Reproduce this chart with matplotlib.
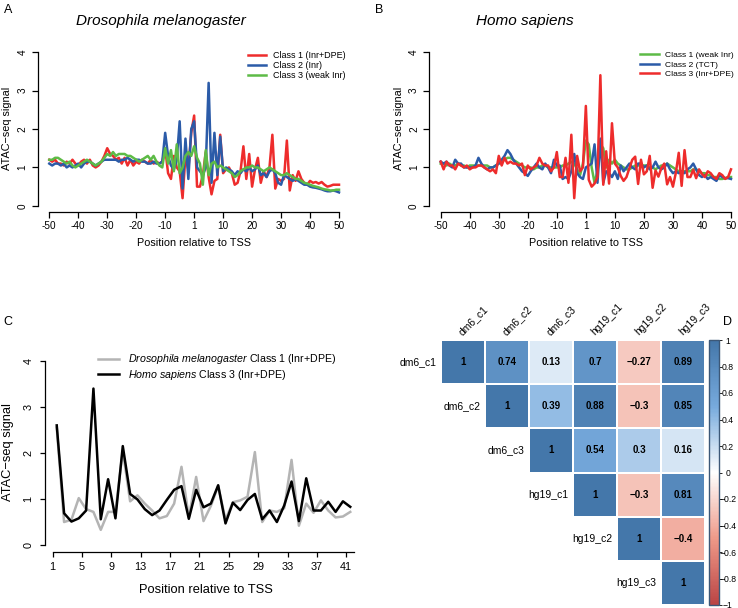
import numpy as np
import matplotlib
matplotlib.use("Agg")
import matplotlib.pyplot as plt
from matplotlib.colors import LinearSegmentedColormap, Normalize
from matplotlib.cm import ScalarMappable

plt.rcParams['font.family'] = ['Liberation Sans', 'DejaVu Sans']
plt.rcParams['mathtext.fontset'] = 'custom'
plt.rcParams['mathtext.it'] = 'Liberation Sans:italic'
plt.rcParams['mathtext.rm'] = 'Liberation Sans'

# ---- data ----
positions = np.arange(-50, 51)
tss_ticks = np.arange(-50, 51, 10)
tss_labels = ['-50', '-40', '-30', '-20', '-10', '1', '10', '20', '30', '40', '50']

dm_class1 = [1.2, 1.15, 1.2, 1.1, 1.1, 1.05, 1.15, 1.1, 1.2, 1.1,
             1.05, 1.15, 1.2, 1.1, 1.2, 1.05, 1.0, 1.05, 1.15, 1.3,
             1.5, 1.35, 1.3, 1.2, 1.25, 1.1, 1.25, 1.05, 1.2, 1.05,
             1.15, 1.1, 1.2, 1.15, 1.1, 1.2, 1.1, 1.15, 1.1, 1.15,
             1.5, 0.85, 0.7, 1.3, 1.0, 0.9, 0.2, 1.3, 0.95, 1.9,
             2.35, 0.5, 0.5, 0.8, 1.4, 0.75, 0.3, 0.65, 0.7, 1.85,
             0.85, 0.95, 1.0, 0.85, 0.55, 0.6, 0.9, 1.55, 0.7, 1.35,
             0.5, 0.95, 1.25, 0.6, 0.9, 0.75, 1.0, 1.85, 0.45, 0.7,
             0.65, 0.7, 1.7, 0.4, 0.8, 0.65, 0.9, 0.7, 0.6, 0.55,
             0.65, 0.6, 0.62, 0.58, 0.62, 0.55, 0.5, 0.52, 0.55, 0.55,
             0.55]
dm_class2 = [1.1, 1.05, 1.1, 1.1, 1.05, 1.1, 1.0, 1.05, 1.0, 1.05,
             1.1, 1.0, 1.1, 1.15, 1.15, 1.1, 1.05, 1.1, 1.15, 1.2,
             1.2, 1.2, 1.2, 1.2, 1.15, 1.2, 1.2, 1.25, 1.2, 1.15,
             1.2, 1.2, 1.15, 1.15, 1.1, 1.1, 1.15, 1.1, 1.1, 1.15,
             1.9, 1.3, 1.05, 0.95, 1.2, 2.2, 0.45, 1.75, 0.7, 2.0,
             2.2, 1.0, 0.9, 0.8, 1.0, 3.2, 0.6, 1.9, 0.8, 1.8,
             0.9, 1.0, 0.95, 0.9, 0.8, 0.9, 0.85, 0.95, 0.9, 1.0,
             0.9, 0.95, 1.05, 0.8, 0.85, 0.75, 0.9, 0.95, 0.85, 0.6,
             0.55, 0.8, 0.75, 0.7, 0.65, 0.7, 0.65, 0.6, 0.55, 0.55,
             0.5, 0.48, 0.47, 0.45, 0.43, 0.4, 0.38, 0.38, 0.4, 0.38,
             0.35]
dm_class3 = [1.2, 1.2, 1.25, 1.25, 1.2, 1.15, 1.1, 1.15, 1.05, 1.0,
             1.05, 1.1, 1.15, 1.2, 1.15, 1.1, 1.05, 1.1, 1.15, 1.25,
             1.35, 1.3, 1.4, 1.3, 1.35, 1.35, 1.35, 1.3, 1.3, 1.25,
             1.2, 1.15, 1.2, 1.25, 1.3, 1.2, 1.3, 1.15, 1.05, 1.0,
             1.5, 1.1, 1.45, 0.9, 1.6, 0.85, 1.0, 1.3, 1.4, 1.3,
             1.55, 1.25, 1.1, 0.55, 1.45, 0.8, 1.1, 1.15, 1.0, 1.05,
             1.0, 0.95, 0.9, 0.85, 0.75, 0.8, 0.9, 0.95, 1.0, 1.0,
             1.05, 1.0, 1.0, 0.95, 0.9, 0.95, 1.0, 0.95, 0.9, 0.85,
             0.8, 0.8, 0.85, 0.8, 0.75, 0.7, 0.7, 0.65, 0.6, 0.58,
             0.55, 0.52, 0.5, 0.48, 0.45, 0.43, 0.42, 0.4, 0.4, 0.42,
             0.42]

hs_class1 = [1.1, 1.1, 1.05, 1.1, 1.05, 1.05, 1.1, 1.05, 1.05, 1.0,
             1.05, 1.05, 1.05, 1.05, 1.05, 1.05, 1.05, 1.0, 1.0, 1.05,
             1.1, 1.15, 1.2, 1.25, 1.25, 1.2, 1.15, 1.1, 1.05, 1.0,
             1.0, 1.0, 0.95, 1.0, 1.0, 1.05, 1.05, 1.0, 1.0, 1.0,
             1.0, 1.0, 1.05, 1.05, 1.1, 1.15, 1.1, 0.95, 0.8, 1.1,
             1.7, 1.6, 1.0, 0.6, 0.9, 1.6, 1.5, 1.0, 1.2, 1.1,
             1.2, 1.1, 1.05, 1.0, 0.95, 0.95, 1.0, 1.05, 1.05, 1.05,
             1.05, 1.05, 1.0, 1.0, 0.95, 1.0, 1.05, 1.05, 1.1, 1.05,
             1.0, 0.95, 0.9, 0.9, 0.9, 0.9, 0.9, 0.95, 0.95, 0.9,
             0.85, 0.85, 0.8, 0.8, 0.75, 0.75, 0.7, 0.7, 0.72, 0.75,
             0.75]
hs_class2 = [1.15, 1.1, 1.15, 1.05, 1.0, 1.2, 1.1, 1.1, 1.0, 1.0,
             1.0, 1.0, 1.05, 1.25, 1.1, 1.0, 0.95, 1.0, 1.0, 1.05,
             1.1, 1.2, 1.3, 1.45, 1.35, 1.2, 1.1, 1.0, 0.9, 0.85,
             0.78, 0.9, 1.0, 1.1, 1.0, 0.95, 1.1, 1.0, 0.85, 1.2,
             1.05, 1.05, 0.7, 0.75, 0.7, 0.9, 1.35, 0.85, 0.75, 0.7,
             1.0, 1.05, 1.1, 1.6, 0.6, 1.75, 0.6, 0.9, 0.85, 0.75,
             0.9, 0.7, 1.05, 0.9, 1.0, 1.1, 1.0, 0.95, 1.1, 1.1,
             1.0, 1.05, 0.95, 1.0, 1.15, 1.0, 0.95, 1.0, 1.1, 0.95,
             0.85, 0.9, 0.85, 0.9, 0.85, 0.95, 1.0, 1.1, 0.95, 0.8,
             0.75, 0.8, 0.7, 0.75, 0.7, 0.65, 0.8, 0.75, 0.72, 0.72,
             0.7]
hs_class3 = [1.15, 0.95, 1.15, 1.05, 1.05, 0.95, 1.1, 1.05, 1.0, 1.05,
             0.95, 1.0, 1.0, 1.05, 1.05, 1.0, 0.95, 0.9, 0.95, 0.85,
             1.3, 1.05, 1.25, 1.1, 1.15, 1.1, 1.1, 1.05, 1.1, 0.8,
             1.05, 0.95, 1.0, 1.05, 1.25, 1.1, 1.05, 1.05, 0.9, 1.0,
             1.4, 0.75, 0.75, 1.25, 0.6, 1.85, 0.2, 1.3, 0.9, 1.0,
             2.6, 0.68, 0.5, 0.58, 0.75, 3.4, 0.55, 1.42, 0.58, 2.15,
             1.1, 1.0, 0.78, 0.65, 0.75, 0.98, 1.2, 1.28, 0.57, 1.2,
             0.82, 0.9, 1.3, 0.47, 0.92, 0.76, 0.98, 1.1, 0.56, 0.75,
             0.5, 0.86, 1.38, 0.52, 1.45, 0.75, 0.75, 0.94, 0.72, 0.95,
             0.83, 0.75, 0.9, 0.85, 0.75, 0.7, 0.85, 0.8, 0.7, 0.75,
             0.95]

# panel C: positions 1..41 downstream of TSS
c_pos = np.arange(41) + 1.55
c_ticks = np.arange(1, 42, 4)
c_dm = [2.55, 0.5, 0.55, 1.02, 0.78, 0.72, 0.33, 0.72, 0.72, 2.05,
        0.95, 1.08, 0.9, 0.75, 0.58, 0.63, 0.9, 1.7, 0.6, 1.48,
        0.52, 0.85, 1.28, 0.55, 0.93, 0.97, 1.05, 2.02, 0.5, 0.75,
        0.72, 0.8, 1.85, 0.42, 0.9, 0.7, 0.97, 0.75, 0.6, 0.62, 0.72]
c_hs = [2.6, 0.69, 0.51, 0.58, 0.75, 3.4, 0.56, 1.43, 0.58, 2.15,
        1.11, 0.99, 0.78, 0.65, 0.75, 0.98, 1.2, 1.28, 0.57, 1.2,
        0.82, 0.9, 1.3, 0.47, 0.92, 0.76, 0.98, 1.11, 0.56, 0.75,
        0.5, 0.86, 1.38, 0.52, 1.45, 0.75, 0.75, 0.94, 0.72, 0.95, 0.83]

# panel D: correlation matrix (upper triangle)
corr_names = ['dm6_c1', 'dm6_c2', 'dm6_c3', 'hg19_c1', 'hg19_c2', 'hg19_c3']
corr_upper = [[1, 0.74, 0.13, 0.7, -0.27, 0.89],
              [1, 0.39, 0.88, -0.3, 0.85],
              [1, 0.54, 0.3, 0.16],
              [1, -0.3, 0.81],
              [1, -0.4],
              [1]]
cbar_ticks = [-1, -0.8, -0.6, -0.4, -0.2, 0, 0.2, 0.4, 0.6, 0.8, 1]

RED, BLUE, GREEN = '#EE2C2C', '#2B5BA8', '#5DBB46'

W, H = 738, 608
fig = plt.figure(figsize=(W / 100, H / 100), dpi=100)


def box(l, t, r, b):
    return [l / W, 1 - b / H, (r - l) / W, (b - t) / H]


def r_style(ax, xb, yb, tick_fs, pad_x, pad_y, tlen):
    # base-R look: detached axes that only span the tick range
    for s in ['top', 'right']:
        ax.spines[s].set_visible(False)
    ax.spines['left'].set_bounds(*yb)
    ax.spines['bottom'].set_bounds(*xb)
    for s in ['left', 'bottom']:
        ax.spines[s].set_linewidth(0.9)
    ax.tick_params(direction='out', length=tlen, width=0.9, labelsize=tick_fs)
    ax.tick_params(axis='x', pad=pad_x)
    ax.tick_params(axis='y', pad=pad_y, labelrotation=90)
    ax.set_yticks([0, 1, 2, 3, 4])
    for lab in ax.get_yticklabels():
        lab.set_va('center')


def ftext(x, y, s, **kw):
    fig.text(x / W, 1 - y / H, s, **kw)


# ---- panel A ----
axA = fig.add_axes(box(37.7, 46, 350.6, 212))
for vals, col, lab in [(dm_class1, RED, 'Class 1 (Inr+DPE)'),
                       (dm_class2, BLUE, 'Class 2 (Inr)'),
                       (dm_class3, GREEN, 'Class 3 (weak Inr)')]:
    axA.plot(positions, vals, color=col, lw=1.8, label=lab)
axA.set_xlim(-54, 54)
axA.set_ylim(-0.16, 4.16)
axA.set_xticks(tss_ticks)
axA.set_xticklabels(tss_labels)
r_style(axA, (-50, 50), (0, 4), 7.2, 2.5, 3, 4.3)
axA.legend(loc='upper left', bbox_to_anchor=(248 / W, 1 - 51 / H),
           bbox_transform=fig.transFigure, frameon=False, fontsize=6.5,
           handlelength=2.0, handletextpad=0.8, labelspacing=0.12,
           borderpad=0, borderaxespad=0)

# ---- panel B ----
axB = fig.add_axes(box(429.1, 46, 742.6, 212))
for vals, col, lab in [(hs_class1, GREEN, 'Class 1 (weak Inr)'),
                       (hs_class2, BLUE, 'Class 2 (TCT)'),
                       (hs_class3, RED, 'Class 3 (Inr+DPE)')]:
    axB.plot(positions, vals, color=col, lw=1.8, label=lab)
axB.set_xlim(-54, 54)
axB.set_ylim(-0.16, 4.16)
axB.set_xticks(tss_ticks)
axB.set_xticklabels(tss_labels)
r_style(axB, (-50, 50), (0, 4), 7.2, 2.5, 3, 4.3)
axB.legend(loc='upper left', bbox_to_anchor=(640 / W, 1 - 51 / H),
           bbox_transform=fig.transFigure, frameon=False, fontsize=6.1,
           handlelength=2.3, handletextpad=0.7, labelspacing=0.2,
           borderpad=0, borderaxespad=0)

# ---- panel C ----
axC = fig.add_axes(box(45, 353.6, 362, 552.4))
axC.plot(c_pos, c_dm, color='#B4B4B4', lw=1.8,
         label=r'$\mathit{Drosophila\ melanogaster}$ Class 1 (Inr+DPE)')
axC.plot(c_pos, c_hs, color='black', lw=1.8,
         label=r'$\mathit{Homo\ sapiens}$ Class 3 (Inr+DPE)')
axC.set_xlim(-0.05, 43.15)
axC.set_ylim(-0.16, 4.16)
axC.set_xticks(c_ticks)
r_style(axC, (1, 42), (0, 4), 7.8, 3.4, 4.8, 3.6)
axC.legend(loc='upper left', bbox_to_anchor=(98 / W, 1 - 352.5 / H),
           bbox_transform=fig.transFigure, frameon=False, fontsize=7.7,
           handlelength=2.0, handletextpad=0.8, labelspacing=0.15,
           borderpad=0, borderaxespad=0)

# titles and axis labels
ftext(161, 21, 'Drosophila melanogaster', fontsize=11, style='italic', ha='center', va='center')
ftext(524.7, 21, 'Homo sapiens', fontsize=11, style='italic', ha='center', va='center')
ftext(194, 243, 'Position relative to TSS', fontsize=7.8, ha='center', va='center')
ftext(585.7, 243, 'Position relative to TSS', fontsize=7.8, ha='center', va='center')
ftext(205.7, 590, 'Position relative to TSS', fontsize=9.3, ha='center', va='center')
ftext(7.5, 128, 'ATAC\u2212seq signal', fontsize=7.8, rotation=90, ha='center', va='center')
ftext(398.5, 128, 'ATAC\u2212seq signal', fontsize=7.8, rotation=90, ha='center', va='center')
ftext(8.5, 452, 'ATAC\u2212seq signal', fontsize=9.3, rotation=90, ha='center', va='center')

# panel letters
ftext(8, 10, 'A', fontsize=9, ha='center', va='center')
ftext(379, 10, 'B', fontsize=9, ha='center', va='center')
ftext(8, 322, 'C', fontsize=9, ha='center', va='center')
ftext(728, 322, 'D', fontsize=9, ha='center', va='center')

# ---- panel D ----
n = len(corr_names)
mat = np.full((n, n), np.nan)
for i, row in enumerate(corr_upper):
    mat[i, i:] = row
cmap = LinearSegmentedColormap.from_list(
    'corr', ['#BB4444', '#EE9988', '#FFFFFF', '#77AADD', '#4477AA'], N=200)
norm = Normalize(-1, 1)

axD = fig.add_axes(box(441, 340, 705, 605))
axD.pcolormesh(np.arange(n + 1), np.arange(n + 1), np.ma.masked_invalid(mat),
               cmap=cmap, norm=norm, edgecolors='white', linewidth=1.2)
axD.set_xlim(0, n)
axD.set_ylim(n, 0)
axD.axis('off')
for i in range(n):
    for j in range(i, n):
        v = mat[i, j]
        txt = ('%g' % v).replace('-', '\u2212')
        axD.text(j + 0.5, i + 0.5, txt, ha='center', va='center',
                 fontsize=7, fontweight='bold', color='black')
    axD.text(i - 0.1, i + 0.5, corr_names[i], ha='right', va='center', fontsize=7.5)
    axD.text(i + 0.52, -0.06, corr_names[i], ha='left', va='bottom', fontsize=7.5,
             rotation=45, rotation_mode='anchor')

cax = fig.add_axes(box(709.3, 340, 719.3, 605))
cb = fig.colorbar(ScalarMappable(norm=norm, cmap=cmap), cax=cax, ticks=cbar_ticks)
cb.ax.set_yticklabels([('%g' % t).replace('-', '\u2212') for t in cbar_ticks])
cb.ax.tick_params(labelsize=6.2, length=2.5, width=0.6, pad=3.6)
for lab in cb.ax.get_yticklabels():
    lab.set_ha('center')
cb.outline.set_edgecolor('#3C5878')
cb.outline.set_linewidth(1.0)

fig.savefig('out.png', dpi=100)
